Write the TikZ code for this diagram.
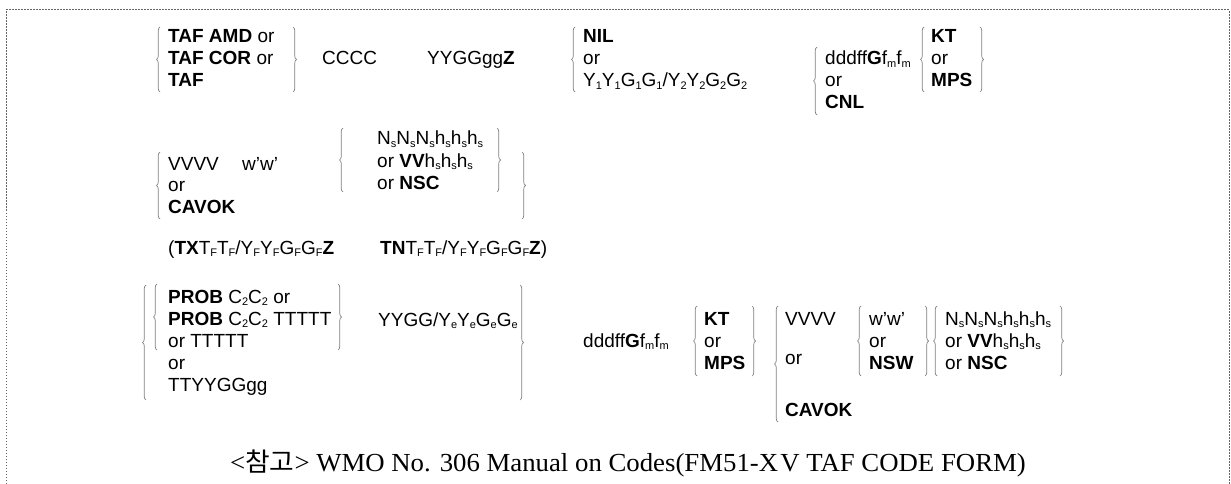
\documentclass[tikz,border=0pt]{standalone}
\usepackage{fontspec}
\setmainfont{Liberation Sans}
\newfontfamily\capfont{Liberation Serif}
\newfontfamily\kofont{Noto Sans CJK KR}
\usetikzlibrary{decorations.pathreplacing}
\newcommand\lo[1]{\raisebox{-2.5pt}{\fontsize{11}{11}\selectfont #1}}
\newcommand\dtf{\fontsize{19}{22}\selectfont}
\tikzset{
  t/.style={anchor=base west, inner sep=0pt, font=\dtf},
  br/.style={decorate, decoration={brace, amplitude=3.5pt}, draw=black!50, line width=0.7pt},
  frame/.style={draw=black!60, line width=1pt, dash pattern=on 1.5pt off 1.5pt}
}
\begin{document}
\begin{tikzpicture}[x=1pt,y=-1pt]
\useasboundingbox (0,0) rectangle (1231,484);
\draw[frame] (6,484) -- (6,10) -- (1229,10) -- (1229,484);

% ---------- row 1
\node[t] (taf1) at (168,43) {\textbf{TAF AMD} or};
\node[t] (taf2) at (168,65) {\textbf{TAF COR} or};
\node[t] (taf3) at (168,87) {\textbf{TAF}};
\draw[br] (160,92) -- (160,27);
\draw[br] (293,27) -- (293,92);
\node[t] (cccc) at (322,65) {CCCC};
\node[t] (yyggz) at (427,65) {YYGGgg\textbf{Z}};
\node[t] (nil) at (583,43) {\textbf{NIL}};
\node[t] (nilor) at (583,65) {or};
\node[t] (y1y2) at (583,87) {Y\lo1Y\lo1G\lo1G\lo1/Y\lo2Y\lo2G\lo2G\lo2};
\draw[br] (575,92) -- (575,27);
\node[t] (dff1) at (825,65) {dddff\textbf{G}f\lo mf\lo m};
\node[t] (dffor) at (825,87) {or};
\node[t] (cnl) at (825,109) {\textbf{CNL}};
\draw[br] (817,115) -- (817,47);
\node[t] (kt1) at (931,43) {\textbf{KT}};
\node[t] (kt1or) at (931,65) {or};
\node[t] (mps1) at (931,87) {\textbf{MPS}};
\draw[br] (924,92) -- (924,27);
\draw[br] (980,27) -- (980,92);

% ---------- row 2
\node[t] (vvvv1) at (168,170) {VVVV};
\node[t] (ww1) at (242,170) {w'w'};
\node[t] (vor1) at (168,191) {or};
\node[t] (cavok1) at (168,213) {\textbf{CAVOK}};
\draw[br] (160,219) -- (160,152);
\node[t] (ns1) at (377,145) {N\lo sN\lo sN\lo sh\lo sh\lo sh\lo s};
\node[t] (vv1) at (377,167) {or \textbf{VV}h\lo sh\lo sh\lo s};
\node[t] (nsc1) at (377,189) {or \textbf{NSC}};
\draw[br] (343,192) -- (343,128);
\draw[br] (497,128) -- (497,192);
\draw[br] (522,152) -- (522,219);

% ---------- row 3
\node[t] (tx) at (168,254) {(\textbf{TX}T\lo FT\lo F/Y\lo FY\lo FG\lo FG\lo F\textbf{Z}};
\node[t] (tn) at (380,254) {\textbf{TN}T\lo FT\lo F/Y\lo FY\lo FG\lo FG\lo F\textbf{Z})};

% ---------- row 4
\node[t] (prob1) at (168,303) {\textbf{PROB} C\lo2C\lo2 or};
\node[t] (prob2) at (168,325) {\textbf{PROB} C\lo2C\lo2 TTTTT};
\node[t] (prob3) at (168,347) {or TTTTT};
\node[t] (prob4) at (168,369) {or};
\node[t] (prob5) at (168,391) {TTYYGGgg};
\draw[br] (146,400) -- (146,285);
\draw[br] (157,350) -- (157,284);
\draw[br] (338,284) -- (338,350);
\node[t] (yygge) at (378,326) {YYGG/Y\lo eY\lo eG\lo eG\lo e};
\draw[br] (520,285) -- (520,400);
\node[t] (dff2) at (583,347) {dddff\textbf{G}f\lo mf\lo m};
\node[t] (kt2) at (704,325) {\textbf{KT}};
\node[t] (kt2or) at (704,347) {or};
\node[t] (mps2) at (704,369) {\textbf{MPS}};
\draw[br] (697,376) -- (697,306);
\draw[br] (752,306) -- (752,376);
\node[t] (vvvv2) at (785,325) {VVVV};
\node[t] (vor2) at (785,364) {or};
\node[t] (cavok2) at (785,416) {\textbf{CAVOK}};
\draw[br] (778,422) -- (778,306);
\node[t] (ww2) at (869,325) {w'w'};
\node[t] (wwor) at (869,347) {or};
\node[t] (nsw) at (869,369) {\textbf{NSW}};
\draw[br] (861,376) -- (861,306);
\draw[br] (925,306) -- (925,376);
\node[t] (ns2) at (945,325) {N\lo sN\lo sN\lo sh\lo sh\lo sh\lo s};
\node[t] (vv2) at (945,347) {or \textbf{VV}h\lo sh\lo sh\lo s};
\node[t] (nsc2) at (945,369) {or \textbf{NSC}};
\draw[br] (937,376) -- (937,306);
\draw[br] (1060,306) -- (1060,376);

% ---------- caption
\node[anchor=base, inner sep=0pt, font=\capfont\fontsize{26}{30}\selectfont] (cap) at (628,471)
  {\scalebox{1.03}[1]{<{\kofont 참고}> WMO No. 306 Manual on Codes(FM51-X\kern2pt V TAF CODE FORM)}};
\end{tikzpicture}
\end{document}
